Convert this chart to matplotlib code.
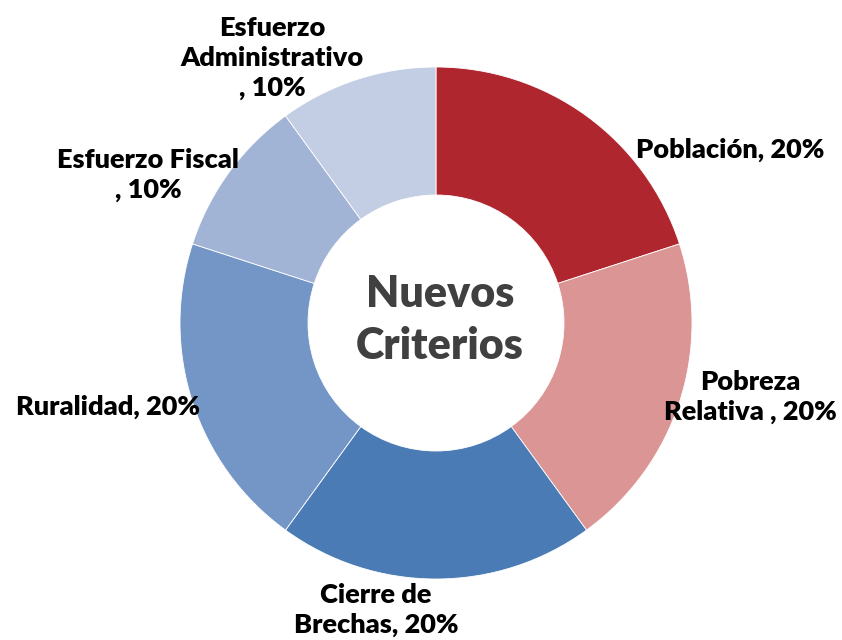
import matplotlib
matplotlib.use("Agg")
import matplotlib.pyplot as plt

categories = ["Población", "Pobreza\nRelativa ", "Cierre de\nBrechas", "Ruralidad",
              "Esfuerzo Fiscal\n", "Esfuerzo\nAdministrativo\n"]
values = [20, 20, 20, 20, 10, 10]
colors = ["#B0262F", "#DA9594", "#4A7BB5", "#7396C6", "#A2B4D5", "#C3CDE3"]
center_title = "Nuevos\nCriterios"

# label positions in pixel coords (x, y from top)
label_pos = [(730, 150), (750, 397), (376, 610), (108, 407), (148, 175), (272, 58)]

W, H = 842, 640
fig = plt.figure(figsize=(W / 100, H / 100), dpi=100)
ax = fig.add_axes([0, 0, 1, 1])
ax.set_xlim(0, W)
ax.set_ylim(0, H)
ax.set_aspect("equal")
ax.axis("off")

cx, cy, R = 436, H - 323, 256
ax.pie(values, colors=colors, startangle=90, counterclock=False,
       center=(cx, cy), radius=R, frame=True,
       wedgeprops=dict(width=R * 0.5, edgecolor="white", linewidth=0.6))
ax.set_xlim(0, W)
ax.set_ylim(0, H)
ax.axis("off")

font = "Lato"
for cat, v, (x, y) in zip(categories, values, label_pos):
    ax.text(x, H - y, f"{cat}, {v}%", ha="center", va="center", fontsize=19.5,
            fontweight="heavy", family=font, color="black", linespacing=1.3)

ax.text(cx + 4, H - 320, center_title, ha="center", va="center", fontsize=31,
        fontweight="heavy", family=font, color="#404040", linespacing=1.38)

fig.savefig("out.png", dpi=100)
